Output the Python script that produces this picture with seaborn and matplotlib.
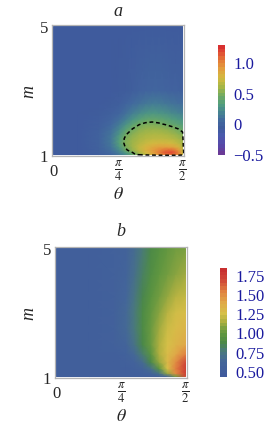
import numpy as np
import seaborn as sns
import matplotlib
matplotlib.use("Agg")
import matplotlib.pyplot as plt
from matplotlib.colors import LinearSegmentedColormap, Normalize
from matplotlib.cm import ScalarMappable
from matplotlib.transforms import ScaledTranslation

# ---- panel a: values (rows = m, columns = theta) ----
# first row and last column are a thin low border so the dashed contour closes on the frame
theta_a = [0, 0.3, 0.55, 0.7, 0.8, 0.88, 0.96, 1.04, 1.12, 1.2, 1.28, 1.36,
           1.44, 1.52, np.pi / 2, 1.61]
m_a = [0.96, 1.0, 1.06, 1.14, 1.24, 1.36, 1.5, 1.65, 1.8, 1.95, 2.1, 2.3,
       2.6, 3.0, 5.0]
z_a = [
    [-0.1, -0.1, -0.1, -0.1, -0.05, 0, 0, 0, 0, 0, 0, 0, 0, 0, 0, -0.1],
    [-0.1, -0.1, -0.06, 0.0, 0.1, 0.22, 0.38, 0.52, 0.66, 0.8, 0.92, 1.02, 1.05, 0.95, 0.7, -0.1],
    [-0.1, -0.1, -0.05, 0.02, 0.14, 0.28, 0.44, 0.6, 0.75, 0.88, 1.02, 1.15, 1.2, 1.05, 0.75, -0.1],
    [-0.1, -0.1, -0.05, 0.05, 0.2, 0.42, 0.55, 0.68, 0.8, 0.9, 0.99, 1.08, 1.1, 0.95, 0.72, -0.1],
    [-0.1, -0.1, -0.04, 0.08, 0.28, 0.47, 0.58, 0.69, 0.78, 0.84, 0.89, 0.9, 0.88, 0.8, 0.65, -0.1],
    [-0.1, -0.1, -0.03, 0.1, 0.33, 0.5, 0.58, 0.65, 0.71, 0.75, 0.77, 0.77, 0.74, 0.68, 0.6, -0.1],
    [-0.1, -0.1, -0.03, 0.1, 0.32, 0.49, 0.56, 0.61, 0.65, 0.67, 0.68, 0.67, 0.65, 0.6, 0.55, -0.1],
    [-0.1, -0.1, -0.04, 0.08, 0.26, 0.43, 0.52, 0.57, 0.6, 0.62, 0.62, 0.61, 0.58, 0.53, 0.48, -0.1],
    [-0.1, -0.1, -0.05, 0.05, 0.19, 0.34, 0.45, 0.51, 0.55, 0.56, 0.56, 0.54, 0.5, 0.45, 0.4, -0.1],
    [-0.1, -0.1, -0.06, 0.02, 0.12, 0.24, 0.36, 0.44, 0.48, 0.49, 0.47, 0.44, 0.4, 0.36, 0.32, -0.1],
    [-0.1, -0.1, -0.07, -0.02, 0.06, 0.15, 0.25, 0.33, 0.38, 0.4, 0.39, 0.36, 0.32, 0.28, 0.25, -0.1],
    [-0.1, -0.1, -0.08, -0.05, 0.0, 0.07, 0.14, 0.2, 0.25, 0.27, 0.26, 0.24, 0.2, 0.17, 0.15, -0.1],
    [-0.1, -0.1, -0.1, -0.08, -0.06, -0.02, 0.03, 0.07, 0.1, 0.12, 0.12, 0.1, 0.08, 0.06, 0.05, -0.1],
    [-0.1, -0.1, -0.1, -0.1, -0.09, -0.08, -0.06, -0.04, -0.02, -0.01, -0.01, -0.02, -0.03, -0.04, -0.05, -0.1],
    [-0.1] * 16,
]
contour_level_a = 0.45
cbar_range_a = (-0.52, 1.28)
cbar_ticks_a = [-0.5, 0, 0.5, 1.0]
cbar_labels_a = ["\u22120.5", "0", "0.5", "1.0"]

# ---- panel b ----
theta_b = [0, 0.4, 0.7, 0.85, 0.95, 1.05, 1.15, 1.25, 1.35, 1.45, np.pi / 2]
m_b = [1.0, 1.1, 1.25, 1.45, 1.7, 2.0, 2.5, 3.0, 3.5, 4.2, 5.0]
z_b = [
    [0.5, 0.5, 0.5, 0.5, 0.5, 0.5, 0.5, 0.5, 0.55, 1.0, 1.7],
    [0.5, 0.5, 0.5, 0.5, 0.5, 0.52, 0.56, 0.7, 1.1, 1.5, 1.75],
    [0.5, 0.5, 0.5, 0.5, 0.52, 0.56, 0.68, 0.95, 1.25, 1.55, 1.75],
    [0.5, 0.5, 0.5, 0.52, 0.55, 0.65, 0.85, 1.1, 1.3, 1.5, 1.7],
    [0.5, 0.5, 0.5, 0.54, 0.62, 0.78, 0.95, 1.15, 1.28, 1.4, 1.55],
    [0.5, 0.5, 0.52, 0.58, 0.7, 0.85, 1.0, 1.15, 1.25, 1.32, 1.4],
    [0.5, 0.5, 0.53, 0.62, 0.75, 0.88, 1.0, 1.12, 1.22, 1.28, 1.32],
    [0.5, 0.5, 0.53, 0.62, 0.75, 0.87, 0.98, 1.08, 1.17, 1.23, 1.27],
    [0.5, 0.5, 0.53, 0.6, 0.72, 0.84, 0.95, 1.03, 1.1, 1.17, 1.2],
    [0.5, 0.5, 0.52, 0.58, 0.68, 0.8, 0.9, 0.97, 1.03, 1.08, 1.12],
    [0.5, 0.5, 0.52, 0.56, 0.65, 0.76, 0.86, 0.93, 0.98, 1.02, 1.05],
]
cbar_range_b = (0.42, 1.84)
cbar_ticks_b = [0.5, 0.75, 1.0, 1.25, 1.5, 1.75]
cbar_labels_b = ["0.50", "0.75", "1.00", "1.25", "1.50", "1.75"]

x_ticks = [0, np.pi / 4, np.pi / 2]
x_ticklabels = ["0", r"$\frac{\pi}{4}$", r"$\frac{\pi}{2}$"]
y_ticks = [1, 5]
y_ticklabels = ["1", "5"]

sns.set_theme(style="white")
plt.rcParams["font.family"] = ["Liberation Serif", "DejaVu Serif"]
plt.rcParams["mathtext.fontset"] = "stix"


def make_cmap(stops, vmin, vmax):
    return LinearSegmentedColormap.from_list(
        "dr", [((v - vmin) / (vmax - vmin), c) for v, c in stops])


stops_a = [(-0.52, "#6a3a96"), (-0.38, "#5648a8"), (-0.22, "#4a5aae"),
           (-0.1, "#3f5b9c"), (0.02, "#42689f"), (0.15, "#458094"),
           (0.3, "#509c80"), (0.45, "#70aa62"), (0.6, "#a6b646"),
           (0.75, "#d2ba40"), (0.9, "#e2a03e"), (1.05, "#e47a38"),
           (1.2, "#e04632"), (1.28, "#d83030")]
stops_b = [(0.42, "#3f5a9c"), (0.6, "#44669a"), (0.75, "#4a7a7c"),
           (0.85, "#4a8848"), (0.95, "#5a9440"), (1.05, "#7aa040"),
           (1.15, "#b0b040"), (1.25, "#d6c048"), (1.4, "#e0a848"),
           (1.55, "#e08040"), (1.7, "#d04838"), (1.84, "#c83030")]

cmap_a = make_cmap(stops_a, *cbar_range_a)
cmap_b = make_cmap(stops_b, *cbar_range_b)

W, H = 266, 431
fig = plt.figure(figsize=(W / 100, H / 100), dpi=100)


def px_axes(x0, y0, x1, y1):
    return fig.add_axes([x0 / W, 1 - y1 / H, (x1 - x0) / W, (y1 - y0) / H])


def style_axes(ax, title, ty, mx, ty_theta):
    ax.set_xlim(-0.018, np.pi / 2 + 0.018)
    ax.set_ylim(0.955, 5.045)
    ax.set_xticks(x_ticks)
    ax.set_xticklabels(x_ticklabels, fontsize=13)
    ax.set_yticks(y_ticks)
    ax.set_yticklabels(y_ticklabels, fontsize=12)
    ax.tick_params(axis="x", direction="in", length=2.5, width=0.6,
                   color="#999999", pad=5)
    ax.tick_params(axis="y", direction="in", length=2.5, width=0.6,
                   color="#999999", pad=3)
    labels = ax.get_xticklabels()
    labels[0].set_fontsize(12)
    # raise the fractions so their top lines up with the "0"
    for lbl in labels[1:]:
        lbl.set_transform(lbl.get_transform()
                          + ScaledTranslation(0, 5 / 100, fig.dpi_scale_trans))
    for s in ax.spines.values():
        s.set_color("#b4b4b4")
        s.set_linewidth(0.9)
    ax.text(0.5, ty, title, transform=ax.transAxes, ha="center", va="center",
            fontsize=13, style="italic")
    ax.text(mx, 0.5, "m", transform=ax.transAxes, ha="center", va="center",
            fontsize=13, style="italic", rotation=90)
    ax.text(0.5, ty_theta, r"$\theta$", transform=ax.transAxes, ha="center",
            va="center", fontsize=13)


def add_cbar(cax, cmap, vrange, ticks, labels):
    sm = ScalarMappable(norm=Normalize(*vrange), cmap=cmap.resampled(30))
    cb = fig.colorbar(sm, cax=cax)
    cb.outline.set_visible(False)
    cb.set_ticks(ticks)
    cb.set_ticklabels(labels)
    cax.tick_params(length=0, pad=6, labelsize=12, labelcolor="#1a1a9e")


# panel a
ax_a = px_axes(52, 26, 184, 157)
za = np.array(z_a)
ax_a.pcolormesh(theta_a[:-1], m_a[1:], za[1:, :-1], shading="gouraud",
                cmap=cmap_a, norm=Normalize(*cbar_range_a))
ax_a.contour(theta_a, m_a, za, levels=[contour_level_a], colors="black",
             linewidths=1.1, linestyles=[(0, (2.5, 1.8))])
style_axes(ax_a, "a", 1.11, -0.175, -0.285)
add_cbar(px_axes(218, 46, 225, 156), cmap_a, cbar_range_a,
         cbar_ticks_a, cbar_labels_a)

# panel b
ax_b = px_axes(55, 248, 187, 379)
ax_b.pcolormesh(theta_b, m_b, np.array(z_b), shading="gouraud",
                cmap=cmap_b, norm=Normalize(*cbar_range_b))
style_axes(ax_b, "b", 1.124, -0.197, -0.29)
add_cbar(px_axes(220, 269, 227, 378), cmap_b, cbar_range_b,
         cbar_ticks_b, cbar_labels_b)

fig.savefig("out.png", dpi=100)
